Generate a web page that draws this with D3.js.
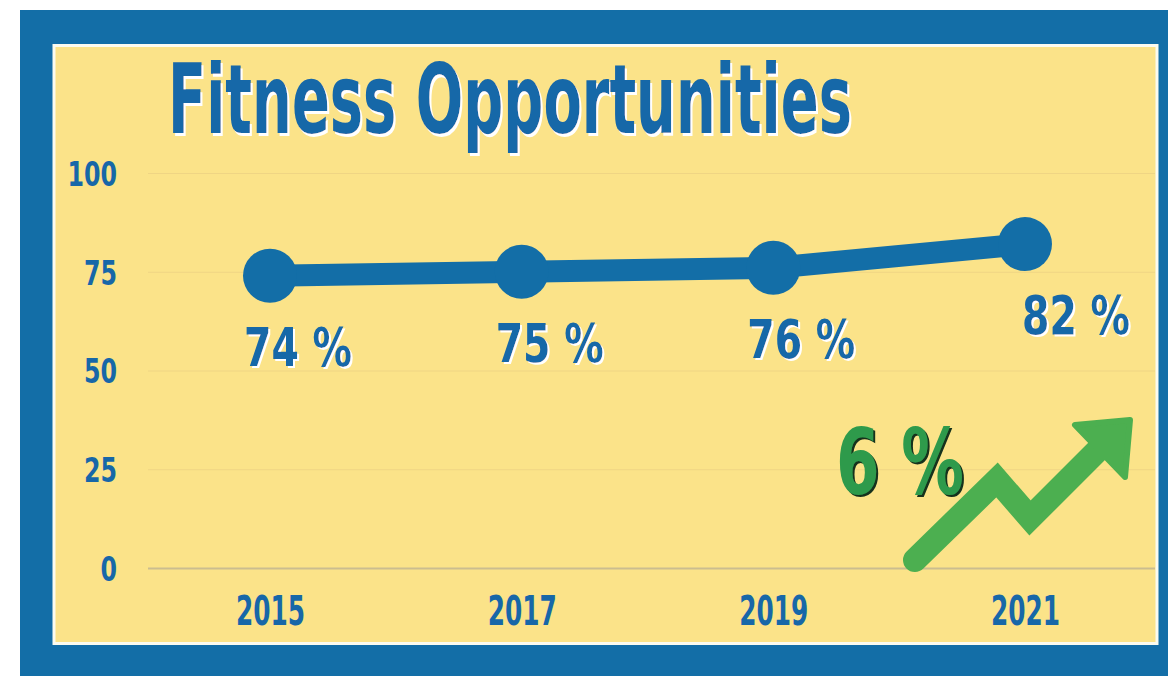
<!DOCTYPE html>
<html><head><meta charset="utf-8">
<script src="https://cdn.jsdelivr.net/npm/d3@7/dist/d3.min.js"></script>
<style>
html,body{margin:0;padding:0;background:#fff;}
svg{display:block;}
text{font-family:"DejaVu Sans Condensed","DejaVu Sans",sans-serif;font-weight:bold;font-stretch:condensed;}
</style></head>
<body>
<svg id="c" width="1168" height="676"></svg>
<script>
// ---- data ----
const title = "Fitness Opportunities";
const years = ["2015", "2017", "2019", "2021"];
const values = [74, 75, 76, 82];
const yTicks = [0, 25, 50, 75, 100];
const changeLabel = "6 %";

// ---- colors ----
const BLUE = "#136ea7", TXT = "#1767a8", YEL = "#fbe389", GREEN = "#4caf50", GREENTXT = "#2f9a4c";

const svg = d3.select("#c");
const defs = svg.append("defs");
function shadow(id, color, dx, dy) {
  const f = defs.append("filter").attr("id", id).attr("x", "-10%").attr("y", "-20%").attr("width", "130%").attr("height", "150%");
  f.append("feOffset").attr("in", "SourceAlpha").attr("dx", dx).attr("dy", dy).attr("result", "off");
  f.append("feFlood").attr("flood-color", color).attr("result", "col");
  f.append("feComposite").attr("in", "col").attr("in2", "off").attr("operator", "in").attr("result", "sh");
  const m = f.append("feMerge");
  m.append("feMergeNode").attr("in", "sh");
  m.append("feMergeNode").attr("in", "SourceGraphic");
}
shadow("wsh3", "#ffffff", 3, 3);
shadow("wsh2", "#ffffff", 2, 2);
shadow("dsh", "#15301b", 3, 2);

// text placed at (x, y) and squeezed horizontally to a given width
function fitText(parent, str, x0, y0, size, width, color, filter) {
  const g = parent.append("g");
  const t = g.append("text").attr("font-size", size).attr("fill", color).text(str);
  if (filter) t.attr("filter", filter);
  const len = t.node().getComputedTextLength();
  g.attr("transform", `translate(${x0},${y0}) scale(${width / len},1)`);
  return g;
}

// frame
svg.append("rect").attr("x", 20).attr("y", 10).attr("width", 1160).attr("height", 680).attr("fill", BLUE);
svg.append("rect").attr("x", 54).attr("y", 45.5).attr("width", 1103).attr("height", 598)
  .attr("fill", YEL).attr("stroke", "#fbfbf0").attr("stroke-width", 3);

const x = d3.scalePoint().domain(years).range([270, 1025]);
const y = d3.scaleLinear().domain([0, 100]).range([568, 173]);
const gridL = 148, gridR = 1155;

// y axis with gridlines
const yAxis = svg.append("g").attr("transform", `translate(${gridL},0)`)
  .call(d3.axisLeft(y).tickValues(yTicks).tickSizeInner(-(gridR - gridL)).tickSizeOuter(0).tickPadding(31));
yAxis.select(".domain").remove();
yAxis.attr("font-family", null).attr("font-size", null);
yAxis.selectAll(".tick line").attr("stroke", d => d === 0 ? "#cbbd8f" : "#efd584").attr("stroke-width", d => d === 0 ? 2 : 1);
yAxis.selectAll(".tick text").attr("fill", TXT).attr("font-size", 34).attr("dy", "0.36em")
  .attr("textLength", d => String(d).length * 16.5).attr("lengthAdjust", "spacingAndGlyphs");

// x axis
const xAxis = svg.append("g").attr("transform", `translate(0,${y(0)})`)
  .call(d3.axisBottom(x).tickSize(0).tickPadding(0));
xAxis.select(".domain").remove();
xAxis.attr("font-family", null).attr("font-size", null);
xAxis.selectAll(".tick text").attr("fill", TXT).attr("font-size", 41).attr("y", 57).attr("dy", 0)
  .attr("textLength", 69).attr("lengthAdjust", "spacingAndGlyphs");

// title
fitText(svg, title, 168, 133, 96, 684, TXT, "url(#wsh3)");

// line + points
const pts = years.map((yr, i) => ({ yr, v: values[i], i }));
svg.append("path").datum(pts)
  .attr("d", d3.line().x(d => x(d.yr)).y(d => y(d.v)))
  .attr("fill", "none").attr("stroke", BLUE).attr("stroke-width", 22).attr("stroke-linejoin", "round");
svg.selectAll("circle.pt").data(pts).join("circle").attr("class", "pt")
  .attr("cx", d => x(d.yr)).attr("cy", d => y(d.v)).attr("r", 27).attr("fill", BLUE);

// value labels
const lg = svg.append("g");
pts.forEach(d => {
  fitText(lg, d.v + " %", x(d.yr) + (d.i === pts.length - 1 ? -3 : -26), y(d.v) + 90, 54, 108, TXT, "url(#wsh2)");
});

// change indicator arrow (decorative icon)
const ar = svg.append("g").attr("transform", "translate(915,560)");
ar.append("polyline").attr("points", "0,0 82,-80 115,-42 185,-112")
  .attr("fill", "none").attr("stroke", GREEN).attr("stroke-width", 24)
  .attr("stroke-linecap", "round").attr("stroke-linejoin", "miter");
ar.append("path").attr("d", "M160,-135 L215,-140 L210,-83 Z").attr("fill", GREEN)
  .attr("stroke", GREEN).attr("stroke-width", 6).attr("stroke-linejoin", "round");

// change label
fitText(svg, changeLabel, 836, 494, 90, 128, GREENTXT, "url(#dsh)");
</script>
</body></html>
